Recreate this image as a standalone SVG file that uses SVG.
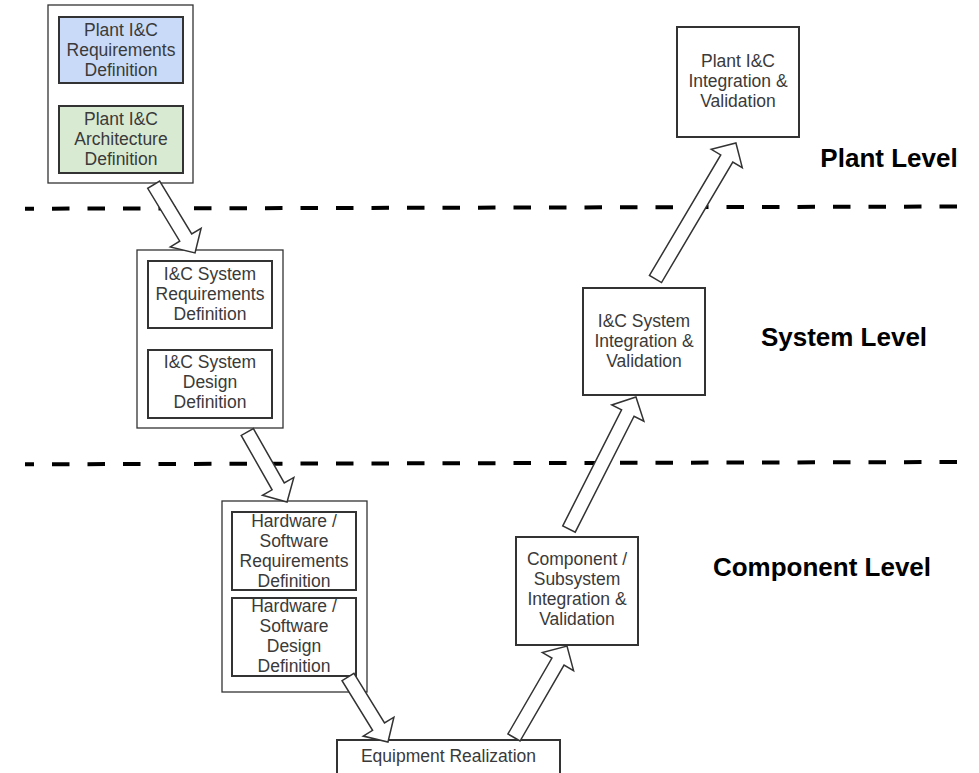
<svg xmlns="http://www.w3.org/2000/svg" width="979" height="773" viewBox="0 0 979 773">
  <defs>
    <style>
      .outer { fill: #ffffff; stroke: #333333; stroke-width: 1.3; }
      .box { fill: #ffffff; stroke: #333333; stroke-width: 2; }
      .req { fill: #c9daf8; }
      .arch { fill: #d9ead3; }
      .lbl { font-family: "Liberation Sans", Arial, sans-serif; font-size: 17.5px; fill: #3a3a3a; text-anchor: middle; }
      .level { font-family: "Liberation Sans", Arial, sans-serif; font-size: 26px; font-weight: bold; fill: #000000; text-anchor: middle; }
      .sep { fill: none; stroke: #000000; stroke-width: 4; stroke-dasharray: 17.5 18; stroke-dashoffset: 8.5; }
      .flow { fill: #ffffff; stroke: #333333; stroke-width: 1.5; stroke-linejoin: miter; }
    </style>
  </defs>

  <!-- level separators -->
  <g id="separators">
    <line class="sep" x1="25" y1="208.7" x2="960" y2="206.5"/>
    <line class="sep" x1="25" y1="464.3" x2="960" y2="462"/>
  </g>

  <!-- level labels -->
  <g id="levels">
    <text class="level" x="889" y="167">Plant Level</text>
    <text class="level" x="844" y="346">System Level</text>
    <text class="level" x="822" y="576">Component Level</text>
  </g>

  <!-- plant level definition -->
  <g id="plant-definition">
    <rect class="outer" x="48" y="5" width="145" height="178"/>
    <g id="plant-req">
      <rect class="box req" x="59" y="17" width="124" height="66"/>
      <text class="lbl" x="121" y="36">Plant I&amp;C</text>
      <text class="lbl" x="121" y="56">Requirements</text>
      <text class="lbl" x="121" y="76">Definition</text>
    </g>
    <g id="plant-arch">
      <rect class="box arch" x="59" y="106" width="124" height="67"/>
      <text class="lbl" x="121" y="125">Plant I&amp;C</text>
      <text class="lbl" x="121" y="145">Architecture</text>
      <text class="lbl" x="121" y="165">Definition</text>
    </g>
  </g>

  <!-- system level definition -->
  <g id="system-definition">
    <rect class="outer" x="137" y="250" width="146" height="178"/>
    <g id="system-req">
      <rect class="box" x="148" y="261" width="124" height="67"/>
      <text class="lbl" x="210" y="280">I&amp;C System</text>
      <text class="lbl" x="210" y="300">Requirements</text>
      <text class="lbl" x="210" y="320">Definition</text>
    </g>
    <g id="system-design">
      <rect class="box" x="148" y="350" width="124" height="68"/>
      <text class="lbl" x="210" y="368">I&amp;C System</text>
      <text class="lbl" x="210" y="388">Design</text>
      <text class="lbl" x="210" y="408">Definition</text>
    </g>
  </g>

  <!-- component level definition -->
  <g id="component-definition">
    <rect class="outer" x="222" y="501" width="145" height="191"/>
    <g id="hwsw-req">
      <rect class="box" x="232" y="512" width="124" height="78"/>
      <text class="lbl" x="294" y="527">Hardware /</text>
      <text class="lbl" x="294" y="547">Software</text>
      <text class="lbl" x="294" y="567">Requirements</text>
      <text class="lbl" x="294" y="587">Definition</text>
    </g>
    <g id="hwsw-design">
      <rect class="box" x="232" y="598" width="124" height="78"/>
      <text class="lbl" x="294" y="612">Hardware /</text>
      <text class="lbl" x="294" y="632">Software</text>
      <text class="lbl" x="294" y="652">Design</text>
      <text class="lbl" x="294" y="672">Definition</text>
    </g>
  </g>

  <g id="equipment">
    <rect class="box" x="337" y="740" width="223" height="50"/>
    <text class="lbl" x="448.5" y="762">Equipment Realization</text>
  </g>

  <g id="component-integration">
    <rect class="box" x="516" y="537" width="122" height="108"/>
    <text class="lbl" x="577" y="565">Component /</text>
    <text class="lbl" x="577" y="585">Subsystem</text>
    <text class="lbl" x="577" y="605">Integration &amp;</text>
    <text class="lbl" x="577" y="625">Validation</text>
  </g>

  <g id="system-integration">
    <rect class="box" x="583" y="288" width="122" height="107"/>
    <text class="lbl" x="644" y="327">I&amp;C System</text>
    <text class="lbl" x="644" y="347">Integration &amp;</text>
    <text class="lbl" x="644" y="367">Validation</text>
  </g>

  <g id="plant-integration">
    <rect class="box" x="677" y="27" width="122" height="110"/>
    <text class="lbl" x="738" y="67">Plant I&amp;C</text>
    <text class="lbl" x="738" y="87">Integration &amp;</text>
    <text class="lbl" x="738" y="107">Validation</text>
  </g>

  <!-- block arrows: local shape points along +x, tail at origin -->
  <g id="connectors">
    <path class="flow" transform="translate(153.7,184.7) rotate(58.8)" d="M0,-7 L61.8,-7 L61.8,-18 L79.8,0 L61.8,18 L61.8,7 L0,7 Z"/>
    <path class="flow" transform="translate(247.3,432) rotate(60.4)" d="M0,-7 L62.5,-7 L62.5,-18 L80.5,0 L62.5,18 L62.5,7 L0,7 Z"/>
    <path class="flow" transform="translate(348,677) rotate(58.4)" d="M0,-7 L58.3,-7 L58.3,-18 L76.3,0 L58.3,18 L58.3,7 L0,7 Z"/>
    <path class="flow" transform="translate(514,737.5) rotate(-59.9)" d="M0,-7 L87.7,-7 L87.7,-18 L105.7,0 L87.7,18 L87.7,7 L0,7 Z"/>
    <path class="flow" transform="translate(569,529) rotate(-63.1)" d="M0,-7 L130,-7 L130,-18 L148,0 L130,18 L130,7 L0,7 Z"/>
    <path class="flow" transform="translate(655.5,279) rotate(-59.4)" d="M0,-7 L140,-7 L140,-18 L158,0 L140,18 L140,7 L0,7 Z"/>
  </g>
</svg>
